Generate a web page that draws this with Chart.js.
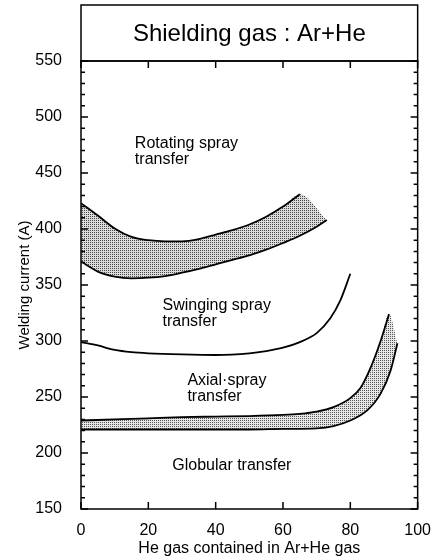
<!DOCTYPE html>
<html>
<head>
<meta charset="utf-8">
<script src="https://cdn.jsdelivr.net/npm/chart.js@4"></script>
<style>
  body { margin: 0; background: #fff; }
  canvas { display: block; }
</style>
</head>
<body>
<canvas id="chart" width="443" height="560"></canvas>
<script>
// Transfer mode boundaries vs. He content (x in %, y in A)
const rotUpperX = [0, 5, 10, 15, 20, 25, 30, 35, 40, 45, 50, 55, 60, 65];
const rotUpperY = [423, 412, 400.5, 393, 390, 389, 389, 391, 395, 399, 404, 411, 420, 431];
const rotLowerX = [0, 5, 10, 15, 20, 25, 30, 35, 40, 45, 50, 55, 60, 65, 70, 73];
const rotLowerY = [371, 362, 357.5, 356, 356.5, 358, 361, 364.5, 368.5, 372.5, 376.5, 381.5, 387.5, 394, 402, 408];

const swingX = [0, 5, 10, 15, 20, 30, 40, 50, 55, 60, 65, 70, 74, 77, 80];
const swingY = [299, 296, 292, 290, 289, 288, 287.5, 289, 291, 294, 299, 307, 320, 336, 360];

const axialUpperX = [0, 10, 20, 30, 40, 50, 60, 65, 70, 75, 80, 83, 86, 89, 91.5];
const axialUpperY = [229, 230, 231, 232, 232.5, 233, 234, 235, 237, 241, 249, 258, 276, 300, 324];
const axialLowerX = [0, 10, 20, 30, 40, 50, 60, 70, 75, 80, 85, 89, 92, 94];
const axialLowerY = [221, 221, 221, 221, 221, 221, 221.5, 222, 224, 229, 238, 253, 274, 298];

const xTicks = [0, 20, 40, 60, 80, 100];
const yMajorStep = 50;
const yMinorStep = 10;

const titleText = 'Shielding gas : Ar+He';
const regionLabels = [
    { lines: ['Rotating spray', 'transfer'], x: 16, y: 476 },
    { lines: ['Swinging spray', 'transfer'], x: 24.2, y: 332 },
    { lines: ['Axial·spray', 'transfer'], x: 31.6, y: 265 },
    { lines: ['Globular transfer'], x: 27.1, y: 189 }
];

const FONT = '"Liberation Sans", Arial, Helvetica, sans-serif';

function toPoints(xs, ys) {
    return xs.map((x, i) => ({ x: x, y: ys[i] }));
}

// Dotted stipple used for the transition bands
function stipple(dot, bg, size) {
    const c = document.createElement('canvas');
    c.width = size;
    c.height = size;
    const g = c.getContext('2d');
    g.fillStyle = bg;
    g.fillRect(0, 0, size, size);
    g.fillStyle = dot;
    g.fillRect(0, 0, 1, 1);
    if (size > 2) g.fillRect(Math.floor(size / 2), Math.floor(size / 2), 1, 1);
    return g.createPattern(c, 'repeat');
}

const rotUpper = toPoints(rotUpperX, rotUpperY);
const rotLower = toPoints(rotLowerX, rotLowerY);
const axialUpper = toPoints(axialUpperX, axialUpperY);
const axialLower = toPoints(axialLowerX, axialLowerY);

// Band outlines: upper curve closed down to the lower curve's end point
const rotBandEdge = rotUpper.concat([rotLower[rotLower.length - 1]]);
const axialBandEdge = axialUpper.concat([axialLower[axialLower.length - 1]]);

const curve = {
    borderColor: '#000',
    borderWidth: 1.8,
    pointRadius: 0,
    cubicInterpolationMode: 'monotone',
    fill: false
};

// Frame, inward ticks, title box and region names
const framePlugin = {
    id: 'frame',
    afterDraw(chart) {
        const { ctx, chartArea: a, scales: { x, y } } = chart;
        ctx.save();
        ctx.strokeStyle = '#000';
        ctx.lineWidth = 1.5;
        ctx.strokeRect(a.left, a.top, a.right - a.left, a.bottom - a.top);
        ctx.strokeRect(a.left, 5, a.right - a.left, a.top - 5);

        ctx.beginPath();
        y.ticks.forEach(t => {
            const py = y.getPixelForValue(t.value);
            const len = t.value % yMajorStep === 0 ? 7 : 4;
            ctx.moveTo(a.left, py);
            ctx.lineTo(a.left + len, py);
            ctx.moveTo(a.right, py);
            ctx.lineTo(a.right - len, py);
        });
        x.ticks.forEach(t => {
            const px = x.getPixelForValue(t.value);
            ctx.moveTo(px, a.bottom);
            ctx.lineTo(px, a.bottom - 7);
            ctx.moveTo(px, a.top);
            ctx.lineTo(px, a.top + 7);
        });
        ctx.stroke();

        ctx.fillStyle = '#000';
        ctx.textAlign = 'center';
        ctx.textBaseline = 'middle';
        ctx.font = '24px ' + FONT;
        ctx.fillText(titleText, (a.left + a.right) / 2, (5 + a.top) / 2 + 1);

        ctx.textAlign = 'left';
        ctx.font = '16px ' + FONT;
        regionLabels.forEach(lbl => {
            const px = x.getPixelForValue(lbl.x);
            const py = y.getPixelForValue(lbl.y);
            lbl.lines.forEach((line, i) => ctx.fillText(line, px, py + i * 16));
        });
        ctx.restore();
    }
};

new Chart(document.getElementById('chart'), {
    type: 'line',
    data: {
        datasets: [
            {
                data: rotBandEdge,
                borderWidth: 0,
                borderColor: 'rgba(0,0,0,0)',
                pointRadius: 0,
                cubicInterpolationMode: 'monotone',
                backgroundColor: stipple('#444', '#dcdcdc', 2),
                fill: 1
            },
            Object.assign({ data: rotLower }, curve),
            Object.assign({ data: rotUpper }, curve),
            Object.assign({ data: toPoints(swingX, swingY) }, curve),
            {
                data: axialBandEdge,
                borderWidth: 0,
                borderColor: 'rgba(0,0,0,0)',
                pointRadius: 0,
                cubicInterpolationMode: 'monotone',
                backgroundColor: stipple('#555', '#e6e6e6', 2),
                fill: 5
            },
            Object.assign({ data: axialLower }, curve),
            Object.assign({ data: axialUpper }, curve)
        ]
    },
    options: {
        responsive: false,
        animation: false,
        layout: { padding: { left: 0, right: 15, top: 61, bottom: 0 } },
        plugins: {
            legend: { display: false },
            tooltip: { enabled: false },
            filler: { drawTime: 'beforeDatasetsDraw' }
        },
        scales: {
            x: {
                type: 'linear',
                min: 0,
                max: 100,
                afterFit: s => { s.height = 51; },
                afterBuildTicks: s => { s.ticks = xTicks.map(v => ({ value: v })); },
                grid: { drawOnChartArea: false, drawTicks: false },
                border: { display: false },
                ticks: {
                    color: '#000',
                    padding: 12,
                    maxRotation: 0,
                    font: { size: 16, family: FONT }
                },
                title: {
                    display: true,
                    text: 'He gas contained in Ar+He gas',
                    color: '#000',
                    padding: { top: 0, bottom: 2 },
                    font: { size: 16, family: FONT }
                }
            },
            y: {
                min: 150,
                max: 550,
                afterFit: s => { s.width = 81; },
                grid: { drawOnChartArea: false, drawTicks: false },
                border: { display: false },
                ticks: {
                    stepSize: yMinorStep,
                    autoSkip: false,
                    color: '#000',
                    padding: 19,
                    font: { size: 16, family: FONT },
                    callback: v => (v % yMajorStep === 0 ? v : '')
                },
                title: {
                    display: true,
                    text: 'Welding current (A)',
                    color: '#000',
                    padding: { top: 16, bottom: 0 },
                    font: { size: 15, family: FONT }
                }
            }
        }
    },
    plugins: [framePlugin]
});
</script>
</body>
</html>
